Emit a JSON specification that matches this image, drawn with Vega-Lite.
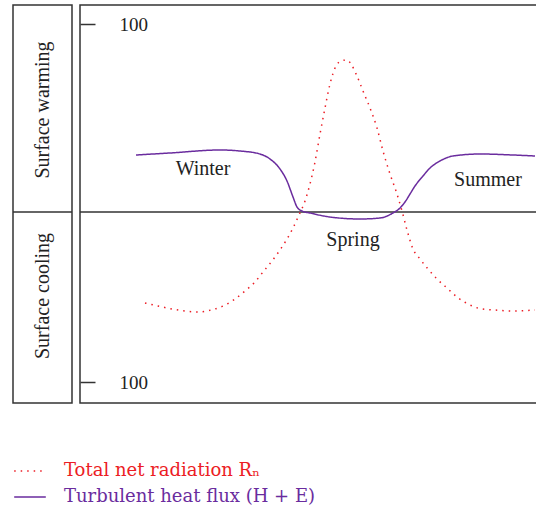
{
  "$schema": "https://vega.github.io/schema/vega-lite/v6.json",
  "padding": {"left": 11, "top": 4, "right": 0, "bottom": 0},
  "bounds": "flush",
  "spacing": 8,
  "config": {
    "view": {"stroke": "#333", "strokeWidth": 1.5},
    "font": "Liberation Serif"
  },
  "datasets": {
    "curves": [
      {"series": "Total net radiation Rₙ", "t": 65, "v": -91},
      {"series": "Total net radiation Rₙ", "t": 78, "v": -94},
      {"series": "Total net radiation Rₙ", "t": 92, "v": -97},
      {"series": "Total net radiation Rₙ", "t": 105, "v": -99},
      {"series": "Total net radiation Rₙ", "t": 118, "v": -100},
      {"series": "Total net radiation Rₙ", "t": 131, "v": -98},
      {"series": "Total net radiation Rₙ", "t": 143, "v": -94},
      {"series": "Total net radiation Rₙ", "t": 155, "v": -87},
      {"series": "Total net radiation Rₙ", "t": 165, "v": -79},
      {"series": "Total net radiation Rₙ", "t": 175, "v": -70},
      {"series": "Total net radiation Rₙ", "t": 183, "v": -60},
      {"series": "Total net radiation Rₙ", "t": 192, "v": -49},
      {"series": "Total net radiation Rₙ", "t": 200, "v": -38},
      {"series": "Total net radiation Rₙ", "t": 207, "v": -27},
      {"series": "Total net radiation Rₙ", "t": 213, "v": -16},
      {"series": "Total net radiation Rₙ", "t": 219, "v": -3},
      {"series": "Total net radiation Rₙ", "t": 225, "v": 11},
      {"series": "Total net radiation Rₙ", "t": 230, "v": 28},
      {"series": "Total net radiation Rₙ", "t": 235, "v": 50},
      {"series": "Total net radiation Rₙ", "t": 240, "v": 78},
      {"series": "Total net radiation Rₙ", "t": 245, "v": 104},
      {"series": "Total net radiation Rₙ", "t": 250, "v": 128},
      {"series": "Total net radiation Rₙ", "t": 256, "v": 146},
      {"series": "Total net radiation Rₙ", "t": 261, "v": 151},
      {"series": "Total net radiation Rₙ", "t": 267, "v": 152},
      {"series": "Total net radiation Rₙ", "t": 271, "v": 148},
      {"series": "Total net radiation Rₙ", "t": 277, "v": 136},
      {"series": "Total net radiation Rₙ", "t": 283, "v": 121},
      {"series": "Total net radiation Rₙ", "t": 290, "v": 104},
      {"series": "Total net radiation Rₙ", "t": 297, "v": 84},
      {"series": "Total net radiation Rₙ", "t": 303, "v": 61},
      {"series": "Total net radiation Rₙ", "t": 310, "v": 38},
      {"series": "Total net radiation Rₙ", "t": 317, "v": 18},
      {"series": "Total net radiation Rₙ", "t": 322, "v": 1},
      {"series": "Total net radiation Rₙ", "t": 327, "v": -18},
      {"series": "Total net radiation Rₙ", "t": 333, "v": -37},
      {"series": "Total net radiation Rₙ", "t": 340, "v": -47},
      {"series": "Total net radiation Rₙ", "t": 348, "v": -57},
      {"series": "Total net radiation Rₙ", "t": 357, "v": -67},
      {"series": "Total net radiation Rₙ", "t": 367, "v": -76},
      {"series": "Total net radiation Rₙ", "t": 377, "v": -85},
      {"series": "Total net radiation Rₙ", "t": 388, "v": -92},
      {"series": "Total net radiation Rₙ", "t": 402, "v": -97},
      {"series": "Total net radiation Rₙ", "t": 415, "v": -98},
      {"series": "Total net radiation Rₙ", "t": 433, "v": -99},
      {"series": "Total net radiation Rₙ", "t": 455, "v": -98},
      {"series": "Turbulent heat flux (H + E)", "t": 56, "v": 57},
      {"series": "Turbulent heat flux (H + E)", "t": 90, "v": 59},
      {"series": "Turbulent heat flux (H + E)", "t": 140, "v": 62},
      {"series": "Turbulent heat flux (H + E)", "t": 160, "v": 61},
      {"series": "Turbulent heat flux (H + E)", "t": 180, "v": 58},
      {"series": "Turbulent heat flux (H + E)", "t": 190, "v": 53},
      {"series": "Turbulent heat flux (H + E)", "t": 200, "v": 43},
      {"series": "Turbulent heat flux (H + E)", "t": 207, "v": 31},
      {"series": "Turbulent heat flux (H + E)", "t": 213, "v": 15},
      {"series": "Turbulent heat flux (H + E)", "t": 217, "v": 5},
      {"series": "Turbulent heat flux (H + E)", "t": 222, "v": 1},
      {"series": "Turbulent heat flux (H + E)", "t": 230, "v": -1},
      {"series": "Turbulent heat flux (H + E)", "t": 250, "v": -5},
      {"series": "Turbulent heat flux (H + E)", "t": 280, "v": -7},
      {"series": "Turbulent heat flux (H + E)", "t": 300, "v": -6},
      {"series": "Turbulent heat flux (H + E)", "t": 313, "v": -1},
      {"series": "Turbulent heat flux (H + E)", "t": 320, "v": 4},
      {"series": "Turbulent heat flux (H + E)", "t": 325, "v": 10},
      {"series": "Turbulent heat flux (H + E)", "t": 330, "v": 18},
      {"series": "Turbulent heat flux (H + E)", "t": 335, "v": 26},
      {"series": "Turbulent heat flux (H + E)", "t": 343, "v": 36},
      {"series": "Turbulent heat flux (H + E)", "t": 350, "v": 44},
      {"series": "Turbulent heat flux (H + E)", "t": 360, "v": 51},
      {"series": "Turbulent heat flux (H + E)", "t": 373, "v": 56},
      {"series": "Turbulent heat flux (H + E)", "t": 400, "v": 58},
      {"series": "Turbulent heat flux (H + E)", "t": 433, "v": 57},
      {"series": "Turbulent heat flux (H + E)", "t": 455, "v": 56}
    ],
    "labels": [
      {"label": "Winter", "t": 123, "v": 43},
      {"label": "Spring", "t": 273, "v": -28},
      {"label": "Summer", "t": 408, "v": 32}
    ],
    "sides": [
      {"side": "Surface warming", "pos": 102},
      {"side": "Surface cooling", "pos": -84}
    ],
    "zero": [{"v": 0}]
  },
  "hconcat": [
    {
      "width": 59,
      "height": 398,
      "layer": [
        {
          "data": {"name": "zero"},
          "mark": {"type": "rule", "color": "#333", "strokeWidth": 1.5},
          "encoding": {
            "y": {"field": "v", "type": "quantitative", "scale": {"domain": [-191, 207], "nice": false}, "axis": null}
          }
        },
        {
          "data": {"name": "sides"},
          "mark": {"type": "text", "angle": 270, "fontSize": 20, "color": "#222", "baseline": "middle", "align": "center"},
          "encoding": {
            "y": {"field": "pos", "type": "quantitative", "scale": {"domain": [-191, 207], "nice": false}, "axis": null},
            "text": {"field": "side"}
          }
        }
      ]
    },
    {
      "width": 458,
      "height": 398,
      "layer": [
        {
          "data": {"name": "zero"},
          "mark": {"type": "rule", "color": "#333", "strokeWidth": 1.5},
          "encoding": {
            "y": {"field": "v", "type": "quantitative", "scale": {"domain": [-191, 207], "nice": false}}
          }
        },
        {
          "data": {"name": "curves"},
          "mark": {"type": "line", "interpolate": "monotone", "strokeWidth": 1.5},
          "encoding": {
            "x": {"field": "t", "type": "quantitative", "scale": {"domain": [0, 458], "nice": false}, "axis": null},
            "y": {
              "field": "v", "type": "quantitative", "scale": {"domain": [-191, 207], "nice": false},
              "axis": {
                "values": [188, -170], "labelExpr": "'100'", "domain": false, "grid": false,
                "tickSize": -15, "tickColor": "#333", "tickWidth": 1.5,
                "labelAlign": "left", "labelBaseline": "middle", "labelPadding": -24,
                "labelFontSize": 19, "labelColor": "#222", "labelFont": "Liberation Serif", "title": null
              }
            },
            "color": {
              "field": "series", "type": "nominal",
              "scale": {"domain": ["Total net radiation Rₙ", "Turbulent heat flux (H + E)"], "range": ["#ec1c24", "#6a2c9e"]},
              "legend": {
                "orient": "none", "legendX": 0, "legendY": 449, "title": null,
                "symbolType": "stroke", "symbolSize": 1000, "symbolStrokeWidth": 1.5,
                "labelFontSize": 18, "labelFont": "DejaVu Serif", "labelOffset": 17, "labelLimit": 0,
                "rowPadding": 0,
                "encode": {"labels": {"update": {"fill": {"signal": "datum.value === 'Total net radiation Rₙ' ? '#ec1c24' : '#6a2c9e'"}}}}
              }
            },
            "strokeDash": {
              "field": "series", "type": "nominal",
              "scale": {"domain": ["Total net radiation Rₙ", "Turbulent heat flux (H + E)"], "range": [[1.5, 5], [1, 0]]},
              "legend": null
            }
          }
        },
        {
          "data": {"name": "labels"},
          "mark": {"type": "text", "fontSize": 20, "color": "#222", "baseline": "middle", "align": "center"},
          "encoding": {
            "x": {"field": "t", "type": "quantitative"},
            "y": {"field": "v", "type": "quantitative"},
            "text": {"field": "label"}
          }
        }
      ]
    }
  ]
}
